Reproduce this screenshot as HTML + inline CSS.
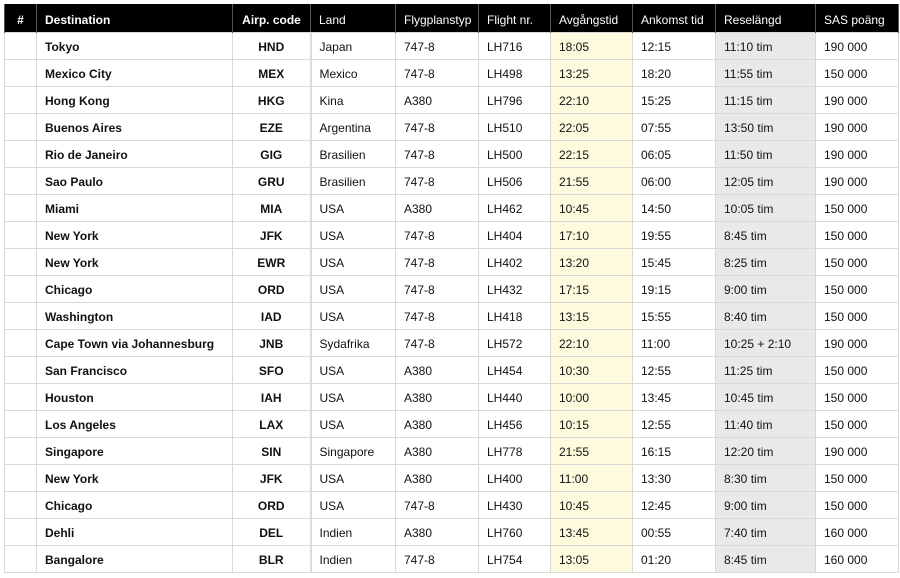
<!DOCTYPE html>
<html><head><meta charset="utf-8"><style>
html,body{margin:0;padding:0;background:#fff;width:900px;height:578px;overflow:hidden}
table{position:absolute;left:4px;top:4px;width:894px;border-collapse:collapse;table-layout:fixed;font-family:"Liberation Sans",sans-serif;font-size:12px;color:#111}
th{background:#000;color:#fff;font-weight:normal;height:25px;padding:3px 0 0 8px;text-align:left;border-left:1px solid #555;border-right:1px solid #555;white-space:nowrap}
th.b{font-weight:bold}
td{height:24px;padding:2px 0 0 8px;border:1px solid #d8d8d8;white-space:nowrap}
td.d{font-weight:bold}
td.c{font-weight:bold;text-align:center;padding:2px 0 0 0}
th.c{text-align:center;padding:3px 0 0 0}
th.h{text-align:center;padding:3px 0 0 0}
td.y{background:#fdfadd}
td.g{background:#e9e9e9}
td.land{border-left:2px solid #dcdcdc}
</style></head><body>
<table>
<colgroup><col style="width:32px"><col style="width:196px"><col style="width:78px"><col style="width:85px"><col style="width:83px"><col style="width:72px"><col style="width:82px"><col style="width:83px"><col style="width:100px"><col style="width:83px"></colgroup>
<tr><th class="b h">#</th><th class="b">Destination</th><th class="b c">Airp. code</th><th>Land</th><th>Flygplanstyp</th><th>Flight nr.</th><th>Avgångstid</th><th>Ankomst tid</th><th>Reselängd</th><th>SAS poäng</th></tr>
<tr><td></td><td class="d">Tokyo</td><td class="c">HND</td><td class="land">Japan</td><td>747-8</td><td>LH716</td><td class="y">18:05</td><td>12:15</td><td class="g">11:10 tim</td><td>190 000</td></tr>
<tr><td></td><td class="d">Mexico City</td><td class="c">MEX</td><td class="land">Mexico</td><td>747-8</td><td>LH498</td><td class="y">13:25</td><td>18:20</td><td class="g">11:55 tim</td><td>150 000</td></tr>
<tr><td></td><td class="d">Hong Kong</td><td class="c">HKG</td><td class="land">Kina</td><td>A380</td><td>LH796</td><td class="y">22:10</td><td>15:25</td><td class="g">11:15 tim</td><td>190 000</td></tr>
<tr><td></td><td class="d">Buenos Aires</td><td class="c">EZE</td><td class="land">Argentina</td><td>747-8</td><td>LH510</td><td class="y">22:05</td><td>07:55</td><td class="g">13:50 tim</td><td>190 000</td></tr>
<tr><td></td><td class="d">Rio de Janeiro</td><td class="c">GIG</td><td class="land">Brasilien</td><td>747-8</td><td>LH500</td><td class="y">22:15</td><td>06:05</td><td class="g">11:50 tim</td><td>190 000</td></tr>
<tr><td></td><td class="d">Sao Paulo</td><td class="c">GRU</td><td class="land">Brasilien</td><td>747-8</td><td>LH506</td><td class="y">21:55</td><td>06:00</td><td class="g">12:05 tim</td><td>190 000</td></tr>
<tr><td></td><td class="d">Miami</td><td class="c">MIA</td><td class="land">USA</td><td>A380</td><td>LH462</td><td class="y">10:45</td><td>14:50</td><td class="g">10:05 tim</td><td>150 000</td></tr>
<tr><td></td><td class="d">New York</td><td class="c">JFK</td><td class="land">USA</td><td>747-8</td><td>LH404</td><td class="y">17:10</td><td>19:55</td><td class="g">8:45 tim</td><td>150 000</td></tr>
<tr><td></td><td class="d">New York</td><td class="c">EWR</td><td class="land">USA</td><td>747-8</td><td>LH402</td><td class="y">13:20</td><td>15:45</td><td class="g">8:25 tim</td><td>150 000</td></tr>
<tr><td></td><td class="d">Chicago</td><td class="c">ORD</td><td class="land">USA</td><td>747-8</td><td>LH432</td><td class="y">17:15</td><td>19:15</td><td class="g">9:00 tim</td><td>150 000</td></tr>
<tr><td></td><td class="d">Washington</td><td class="c">IAD</td><td class="land">USA</td><td>747-8</td><td>LH418</td><td class="y">13:15</td><td>15:55</td><td class="g">8:40 tim</td><td>150 000</td></tr>
<tr><td></td><td class="d">Cape Town via Johannesburg</td><td class="c">JNB</td><td class="land">Sydafrika</td><td>747-8</td><td>LH572</td><td class="y">22:10</td><td>11:00</td><td class="g">10:25 + 2:10</td><td>190 000</td></tr>
<tr><td></td><td class="d">San Francisco</td><td class="c">SFO</td><td class="land">USA</td><td>A380</td><td>LH454</td><td class="y">10:30</td><td>12:55</td><td class="g">11:25 tim</td><td>150 000</td></tr>
<tr><td></td><td class="d">Houston</td><td class="c">IAH</td><td class="land">USA</td><td>A380</td><td>LH440</td><td class="y">10:00</td><td>13:45</td><td class="g">10:45 tim</td><td>150 000</td></tr>
<tr><td></td><td class="d">Los Angeles</td><td class="c">LAX</td><td class="land">USA</td><td>A380</td><td>LH456</td><td class="y">10:15</td><td>12:55</td><td class="g">11:40 tim</td><td>150 000</td></tr>
<tr><td></td><td class="d">Singapore</td><td class="c">SIN</td><td class="land">Singapore</td><td>A380</td><td>LH778</td><td class="y">21:55</td><td>16:15</td><td class="g">12:20 tim</td><td>190 000</td></tr>
<tr><td></td><td class="d">New York</td><td class="c">JFK</td><td class="land">USA</td><td>A380</td><td>LH400</td><td class="y">11:00</td><td>13:30</td><td class="g">8:30 tim</td><td>150 000</td></tr>
<tr><td></td><td class="d">Chicago</td><td class="c">ORD</td><td class="land">USA</td><td>747-8</td><td>LH430</td><td class="y">10:45</td><td>12:45</td><td class="g">9:00 tim</td><td>150 000</td></tr>
<tr><td></td><td class="d">Dehli</td><td class="c">DEL</td><td class="land">Indien</td><td>A380</td><td>LH760</td><td class="y">13:45</td><td>00:55</td><td class="g">7:40 tim</td><td>160 000</td></tr>
<tr><td></td><td class="d">Bangalore</td><td class="c">BLR</td><td class="land">Indien</td><td>747-8</td><td>LH754</td><td class="y">13:05</td><td>01:20</td><td class="g">8:45 tim</td><td>160 000</td></tr>
</table>
</body></html>
